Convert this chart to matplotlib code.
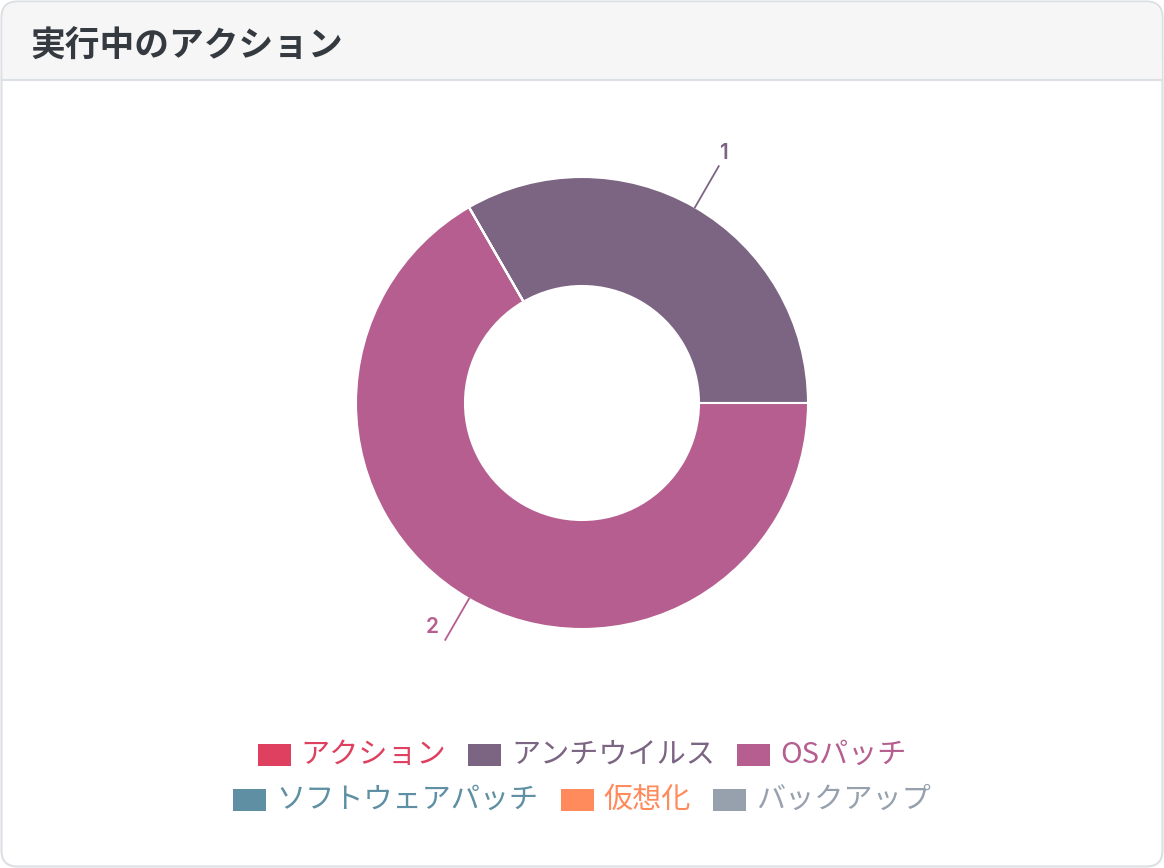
import matplotlib
matplotlib.use("Agg")
import matplotlib.pyplot as plt
from matplotlib.patches import FancyBboxPatch, Rectangle
import numpy as np

plt.rcParams['font.family'] = ['Noto Sans CJK JP', 'DejaVu Sans']

title = "実行中のアクション"
categories = ["アクション", "アンチウイルス", "OSパッチ", "ソフトウェアパッチ", "仮想化", "バックアップ"]
values = [0, 1, 2, 0, 0, 0]
colors = ["#e0405f", "#7c6483", "#b55e8f", "#5e8fa3", "#ff8a5c", "#97a1ae"]

W, H = 1164, 868
fig = plt.figure(figsize=(W / 100, H / 100), dpi=100)
fig.patch.set_facecolor("white")

# card
card = FancyBboxPatch((1.5, 1.5), W - 3, H - 3, boxstyle="round,pad=0,rounding_size=16",
                      transform=None, facecolor="white", edgecolor="#dcdfe3", linewidth=1.5,
                      zorder=-10)
fig.patches.append(card)
header = FancyBboxPatch((2.5, H - 80), W - 5, 77.5, boxstyle="round,pad=0,rounding_size=15",
                        transform=None, facecolor="#f6f6f6", edgecolor="none", zorder=-9)
fig.patches.append(header)
fig.patches.append(Rectangle((2.5, H - 80), W - 5, 20, transform=None, facecolor="#f6f6f6",
                             edgecolor="none", zorder=-9))
fig.lines.append(plt.Line2D([2, W - 2], [H - 80, H - 80], transform=None, color="#dcdfe3",
                            linewidth=1.5, zorder=-8))
fig.text(30 / W, 1 - 46 / H, title, fontsize=25, fontweight="bold", color="#343a40",
         ha="left", va="center")

# donut
cx, cy, R = 582, 403, 226
ax = fig.add_axes([(cx - R) / W, 1 - (cy + R) / H, 2 * R / W, 2 * R / H], zorder=5)
ax.axis("off")
vals = np.array(values, dtype=float)
wedges, _ = ax.pie(vals, colors=colors, startangle=120, counterclock=False, radius=1.0,
                   wedgeprops=dict(width=1 - 117 / 226, edgecolor="white", linewidth=1.5))
ax.set_aspect("equal")
ax.set_xlim(-1, 1)
ax.set_ylim(-1, 1)

# value labels with leader lines
total = vals.sum()
ang = 120.0
for v, c in zip(vals, colors):
    if v <= 0:
        continue
    span = 360.0 * v / total
    mid = np.deg2rad(ang - span / 2)
    ang -= span
    ux, uy = np.cos(mid), np.sin(mid)
    p0 = (ux * 1.0, uy * 1.0)
    p1 = (ux * 1.21, uy * 1.21)
    ax.plot([p0[0], p1[0]], [p0[1], p1[1]], color=c, lw=1.3, clip_on=False)
    off = (5, 13) if ux >= 0 else (-13, 13)
    ax.annotate(f"{int(v)}", xy=p1, xytext=off, textcoords="offset pixels",
                color=c, fontsize=15, fontweight="semibold", ha="center", va="center",
                family=["Inter", "DejaVu Sans"], annotation_clip=False)

# legend (two centred rows)
rows = [[0, 1, 2], [3, 4, 5]]
row_y = [755, 800]
fs = 21
fig.canvas.draw()
renderer = fig.canvas.get_renderer()
sq_w, sq_h, gap_txt, gap_item = 33, 22, 10, 22
for r, yy in zip(rows, row_y):
    widths = []
    for i in r:
        t = fig.text(0, 0, categories[i], fontsize=fs)
        bb = t.get_window_extent(renderer)
        t.remove()
        widths.append(bb.width)
    total_w = sum(sq_w + gap_txt + w for w in widths) + gap_item * (len(r) - 1)
    x = W / 2 - total_w / 2
    for i, w in zip(r, widths):
        fig.patches.append(Rectangle((x, H - yy - sq_h / 2), sq_w, sq_h, transform=None,
                                     facecolor=colors[i], edgecolor="none"))
        fig.text((x + sq_w + gap_txt) / W, 1 - yy / H, categories[i], fontsize=fs,
                 color=colors[i], ha="left", va="center")
        x += sq_w + gap_txt + w + gap_item

fig.savefig("out.png", dpi=100)
